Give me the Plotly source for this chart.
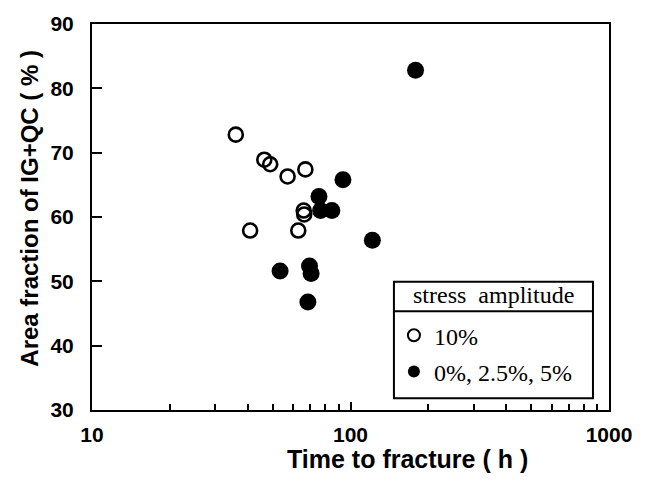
import plotly.graph_objects as go

# Data
open_x = [36.0, 46.4, 48.9, 57.1, 66.9, 65.9, 66.2, 40.9, 62.8]
open_y = [72.8, 68.9, 68.2, 66.3, 67.4, 61.0, 60.4, 57.9, 57.9]
filled_x = [93.5, 75.5, 76.6, 84.7, 121.5, 53.4, 69.4, 70.4, 68.4, 178.5]
filled_y = [65.8, 63.2, 61.0, 61.0, 56.4, 51.6, 52.4, 51.2, 46.8, 82.8]

x_major = [10, 100, 1000]
x_minor = [20, 30, 40, 50, 60, 70, 80, 90, 200, 300, 400, 500, 600, 700, 800, 900]
y_ticks = [30, 40, 50, 60, 70, 80, 90]

legend_title = "stress\u00a0\u00a0amplitude"
name_open = "10%"
name_filled = "0%, 2.5%, 5%"

fig = go.Figure()
fig.add_trace(go.Scatter(
    x=open_x, y=open_y, mode="markers", name=name_open,
    marker=dict(symbol="circle-open", size=14, color="black", line=dict(width=2.6, color="black")),
    legendgroup="a",
))
fig.add_trace(go.Scatter(
    x=filled_x, y=filled_y, mode="markers", name=name_filled,
    marker=dict(symbol="circle", size=17, color="black"),
    legendgroup="b",
))

axis_font = dict(family="Liberation Sans", size=21, color="black")
serif = dict(family="Liberation Serif", size=24, color="black")

# legend box geometry (paper coords of the plot area)
lx0, lx1 = 0.584, 0.969
ly0, ly1 = 0.0307, 0.3325
lsep = 0.2558

fig.update_layout(
    width=655, height=481,
    margin=dict(l=92, r=46, t=19, b=71),
    paper_bgcolor="white", plot_bgcolor="white",
    showlegend=True,
    legend=dict(
        x=lx0, y=0.251, xanchor="left", yanchor="top",
        bgcolor="rgba(0,0,0,0)", borderwidth=0,
        font=serif,
        itemsizing="constant",
        tracegroupgap=2,
    ),
    xaxis=dict(
        type="log", range=[1, 3],
        tickvals=x_major, ticktext=["<b>%d</b>" % v for v in x_major],
        ticks="inside", ticklen=8, tickwidth=1.5, tickcolor="black",
        minor=dict(tickvals=x_minor, ticks="inside", ticklen=6, tickwidth=1.5, tickcolor="black"),
        showline=True, linewidth=2, linecolor="black", mirror=True,
        showgrid=False, zeroline=False,
        tickfont=axis_font, ticklabelstandoff=5,
    ),
    yaxis=dict(
        range=[30, 90], tickvals=y_ticks, ticktext=["<b>%d</b>" % v for v in y_ticks],
        ticks="inside", ticklen=10, tickwidth=1.5, tickcolor="black",
        showline=True, linewidth=2, linecolor="black", mirror=True,
        showgrid=False, zeroline=False,
        tickfont=axis_font, ticklabelstandoff=12,
    ),
    annotations=[
        dict(text="<b>Time to fracture ( h )</b>", xref="paper", yref="paper",
             x=0.611, y=-0.128, xanchor="center", yanchor="middle", showarrow=False,
             font=dict(family="Liberation Sans", size=25, color="black")),
        dict(text="<b>Area fraction of IG+QC ( % )</b>", xref="paper", yref="paper",
             x=-0.12, y=0.524, xanchor="center", yanchor="middle", showarrow=False,
             textangle=-90,
             font=dict(family="Liberation Sans", size=24, color="black")),
        dict(text=legend_title, xref="paper", yref="paper",
             x=(lx0 + lx1) / 2, y=(ly1 + lsep) / 2 + 0.004, xanchor="center", yanchor="middle",
             showarrow=False, font=serif),
    ],
    shapes=[
        dict(type="rect", xref="paper", yref="paper", x0=lx0, x1=lx1, y0=ly0, y1=ly1,
             fillcolor="white", line=dict(color="black", width=2), layer="above"),
        dict(type="line", xref="paper", yref="paper", x0=lx0, x1=lx1, y0=lsep, y1=lsep,
             line=dict(color="black", width=2), layer="above"),
    ],
)

fig.write_html("out.html")
